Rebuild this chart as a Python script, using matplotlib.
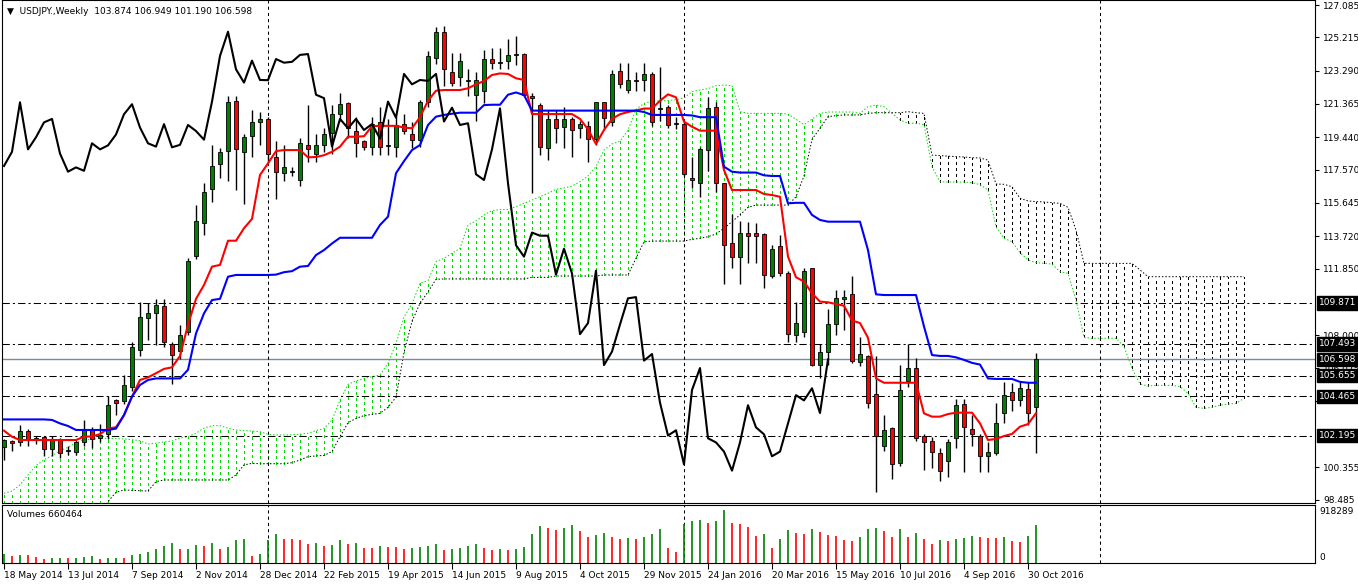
import numpy as np
import matplotlib.pyplot as plt
import matplotlib.transforms as mtransforms

# weekly USDJPY bars, 18 May 2014 .. 6 Nov 2016
opens = [101.53, 101.9, 101.84, 102.48, 101.97, 102.1, 101.4, 102.0, 101.3, 101.25,
         101.8, 102.55, 102.05, 102.28, 104.25, 104.2, 105.0, 107.15, 108.98, 109.27,
         109.7, 107.5, 107.1, 108.2, 112.6, 114.46, 116.43, 117.9, 118.66, 121.53,
         118.6, 119.5, 120.35, 120.5, 118.3, 117.4, 117.45, 116.97, 118.97, 118.5,
         119.0, 119.67, 120.77, 121.4, 119.82, 119.2, 118.86, 120.3, 118.95, 118.86,
         120.2, 119.6, 119.3, 121.5, 124.05, 125.54, 123.2, 122.9, 122.7, 121.87,
         122.13, 123.96, 123.75, 123.85, 124.2, 124.25, 121.85, 121.3, 118.8, 120.5,
         120.05, 120.5, 119.96, 120.08, 119.36, 121.45, 120.33, 123.26, 122.2, 122.75,
         122.75, 123.1, 121.1, 121.2, 120.2, 120.2, 117.1, 116.8, 118.7, 121.2,
         116.8, 113.35, 112.54, 113.93, 113.9, 113.84, 111.4, 113.15, 111.6, 108.0,
         108.2, 111.87, 106.27, 107.04, 108.62, 110.1, 110.37, 106.47, 106.79, 104.6,
         101.6, 102.62, 100.6, 105.35, 106.1, 102.2, 101.9, 101.17, 100.7, 102.04,
         104.05, 102.55, 102.19, 100.99, 101.2, 103.5, 104.7, 104.23, 104.9, 103.874]
highs = [102.0, 101.95, 102.8, 102.6, 102.2, 102.15, 102.2, 102.05, 101.6, 102.0,
         103.1, 102.7, 102.85, 104.5, 104.3, 105.7, 107.6, 109.9, 109.85, 110.1,
         110.1, 107.6, 108.6, 112.45, 115.5, 116.8, 119.0, 118.8, 121.85, 121.8,
         119.6, 121.0, 120.9, 120.6, 119.2, 119.0, 117.7, 119.4, 121.3, 119.6,
         120.0, 121.3, 122.0, 121.5, 120.6, 119.3, 120.6, 121.2, 120.5, 120.6,
         120.8, 120.3, 121.6, 124.4, 125.8, 125.86, 124.3, 124.3, 123.4, 123.2,
         124.5, 124.6, 124.6, 125.1, 125.3, 124.3, 122.0, 121.4, 121.0, 121.0,
         121.2, 120.6, 120.4, 120.4, 121.5, 121.5, 123.3, 123.76, 123.75, 123.2,
         123.76, 123.2, 123.5, 121.3, 120.6, 120.3, 118.3, 118.9, 121.75, 121.5,
         116.8, 115.0, 114.6, 114.55, 114.5, 113.9, 113.2, 113.8, 111.7, 109.9,
         111.9, 111.9, 107.5, 109.5, 110.6, 110.6, 111.4, 107.9, 106.85, 106.8,
         103.4, 102.7, 106.3, 107.5, 106.7, 102.3, 102.1, 101.5, 102.0, 104.3,
         104.3, 103.4, 102.3, 101.84, 104.1, 105.3, 105.25, 105.3, 105.3, 106.949]
lows = [100.8, 101.3, 101.6, 101.6, 101.7, 101.0, 101.0, 100.9, 101.1, 101.1,
        101.6, 101.5, 101.8, 102.0, 103.4, 104.0, 104.8, 106.8, 107.7, 107.45,
        107.3, 105.2, 106.6, 108.0, 112.4, 113.8, 115.7, 117.1, 116.9, 116.4,
        115.6, 118.3, 119.0, 118.0, 115.9, 116.9, 117.2, 116.6, 118.0, 118.0,
        118.6, 118.5, 120.4, 119.4, 118.3, 118.7, 118.4, 118.4, 118.4, 118.3,
        119.6, 118.8, 118.9, 121.2, 123.7, 122.4, 122.4, 122.4, 121.8, 120.4,
        121.4, 123.4, 123.4, 123.4, 123.6, 121.8, 116.2, 118.4, 118.1, 119.1,
        118.8, 118.3, 119.4, 118.0, 119.0, 119.9, 120.1, 122.3, 122.0, 122.1,
        122.1, 120.1, 120.4, 120.0, 119.9, 117.2, 116.5, 116.0, 117.5, 116.3,
        110.98, 111.9, 110.98, 112.2, 112.2, 110.7, 111.3, 111.4, 107.6, 107.6,
        107.9, 106.2, 105.5, 106.3, 108.0, 108.3, 106.4, 106.2, 103.8, 98.95,
        101.3, 99.7, 100.45, 105.0, 101.9, 100.2, 100.3, 99.55, 99.8, 101.5,
        100.1, 101.6, 100.1, 100.1, 101.1, 102.9, 103.6, 103.9, 102.8, 101.19]
closes = [101.94, 101.75, 102.48, 102.02, 102.05, 101.4, 102.0, 101.2, 101.35, 101.8,
          102.55, 102.0, 102.25, 103.95, 104.06, 105.1, 107.33, 109.03, 109.27, 109.74,
          107.6, 106.85, 108.0, 112.3, 114.6, 116.26, 117.78, 118.6, 121.46, 118.74,
          119.44, 120.3, 120.5, 118.5, 117.45, 117.7, 117.5, 119.09, 118.74, 118.97,
          119.6, 120.77, 121.35, 120.0, 119.09, 118.9, 120.2, 118.86, 119.0, 120.15,
          119.8, 119.3, 121.5, 124.14, 125.54, 123.37, 122.6, 123.87, 122.75, 122.74,
          123.96, 123.75, 123.8, 124.2, 124.25, 121.9, 121.7, 118.9, 120.5, 119.96,
          120.5, 119.86, 120.2, 119.36, 121.5, 120.57, 123.1, 122.5, 122.75, 122.7,
          123.1, 120.35, 121.15, 120.15, 120.25, 117.3, 116.97, 118.74, 121.11, 116.78,
          113.2, 112.54, 113.93, 113.75, 113.75, 111.5, 113.0, 111.57, 108.06, 108.7,
          111.73, 106.27, 107.05, 108.62, 110.13, 110.2, 106.53, 106.91, 104.1, 102.2,
          102.5, 100.53, 104.83, 106.1, 102.04, 101.8, 101.27, 100.17, 101.8, 103.95,
          102.67, 102.27, 101.0, 101.27, 102.9, 104.53, 104.23, 104.93, 103.5, 106.598]

tenkan = [102.48, 102.13, 101.94, 101.94, 101.94, 101.94, 101.94, 101.94, 101.94, 101.94,
          102.13, 102.15, 102.28, 102.6, 102.68, 103.38, 104.45, 105.41, 105.56, 105.8,
          106.05, 106.14, 106.8, 108.6, 110.1, 110.9, 111.96, 112.06, 113.46, 113.46,
          114.18, 114.72, 117.26, 117.93, 118.64, 118.7, 118.7, 118.7, 118.28, 118.3,
          118.4, 118.6, 118.9, 119.47, 119.47, 119.5, 120.08, 120.1, 120.1, 120.1,
          120.0, 119.96, 120.6, 121.55, 122.13, 122.17, 122.17, 122.17, 122.27, 122.5,
          122.69, 123.04, 123.13, 123.1, 122.85, 122.75, 120.78, 120.78, 120.78, 120.78,
          120.78, 120.78, 120.5, 119.9, 119.05, 119.86, 120.5, 120.77, 120.9, 120.99,
          121.1, 121.1, 121.55, 121.92, 121.75, 120.34, 120.05, 119.82, 119.82, 119.82,
          117.55, 116.39, 116.39, 116.39, 116.39, 116.16, 116.1, 116.0, 112.54, 111.35,
          111.1, 110.42, 109.94, 109.9, 109.8, 109.7, 108.85, 108.7, 107.85, 105.5,
          105.25, 105.25, 105.25, 105.25, 105.25, 103.48, 103.29, 103.29, 103.44, 103.52,
          103.52, 103.52, 102.9, 101.94, 102.0, 102.17, 102.29, 102.71, 102.86, 103.48]
kijun = [103.13, 103.13, 103.13, 103.13, 103.13, 103.13, 103.1, 102.9, 102.75, 102.52,
         102.52, 102.52, 102.52, 102.52, 102.6, 103.38, 104.45, 105.12, 105.41, 105.5,
         105.5, 105.5, 105.5, 106.0, 108.1, 109.26, 110.03, 110.1, 111.38, 111.48,
         111.48, 111.48, 111.48, 111.48, 111.5, 111.64, 111.7, 111.96, 112.0, 112.63,
         112.92, 113.3, 113.63, 113.63, 113.63, 113.63, 113.63, 114.37, 114.85, 117.36,
         118.06, 118.7, 118.99, 120.15, 120.63, 120.73, 120.8, 120.86, 120.86, 120.86,
         121.3, 121.32, 121.32, 121.9, 122.03, 121.88, 120.98, 120.98, 120.98, 120.98,
         120.98, 120.98, 120.98, 120.98, 120.98, 120.98, 120.98, 120.98, 120.98, 120.98,
         120.9, 120.73, 120.73, 120.73, 120.73, 120.73, 120.7, 120.6, 120.6, 120.6,
         117.74, 117.45, 117.4, 117.4, 117.4, 117.24, 117.2, 117.2, 115.62, 115.65,
         115.65, 114.95, 114.66, 114.56, 114.56, 114.56, 114.56, 114.56, 112.92, 110.36,
         110.32, 110.32, 110.32, 110.32, 110.32, 108.5, 106.85, 106.8, 106.8, 106.72,
         106.57, 106.4, 106.3, 105.5, 105.47, 105.47, 105.47, 105.3, 105.25, 105.25]
# cloud spans run 26 bars past the last candle
span_a = [98.86, 98.99, 99.34, 99.92, 100.46, 100.8, 101.03, 101.32, 101.52, 101.8,
          101.94, 101.98, 102.04, 102.04, 102.02, 102.0, 101.96, 101.9, 101.71, 101.75,
          101.83, 101.88, 102.06, 102.13, 102.33, 102.63, 102.77, 102.77, 102.62, 102.52,
          102.48, 102.46, 102.42, 102.27, 102.23, 102.23, 102.25, 102.27, 102.33, 102.48,
          102.6, 103.1, 104.25, 105.16, 105.35, 105.5, 105.6, 105.7, 106.37, 107.53,
          109.05, 109.8, 111.0, 111.15, 112.25, 112.44, 112.73, 113.02, 114.37, 114.6,
          114.95, 115.2, 115.26, 115.27, 115.43, 115.62, 115.81, 116.01, 116.2, 116.43,
          116.51, 116.62, 116.87, 117.2, 117.74, 118.7, 119.05, 119.22, 119.86, 121.05,
          121.4, 121.52, 121.54, 121.57, 121.61, 121.71, 122.08, 122.17, 122.25, 122.42,
          122.46, 122.42, 120.92, 120.82, 120.82, 120.82, 120.82, 120.82, 120.78, 120.48,
          120.17, 120.48, 120.82, 120.9, 120.9, 120.9, 120.9, 120.82, 121.21, 121.3,
          121.21, 120.82, 120.44, 120.25, 120.25, 120.17, 117.74, 116.87, 116.85, 116.85,
          116.85, 116.82, 116.7, 116.39, 114.27, 113.6, 113.4, 112.77, 112.35, 112.19,
          112.15, 112.11, 111.67, 111.57, 110.03, 107.87, 107.82, 107.82, 107.82, 107.82,
          107.34, 106.08, 105.18, 105.06, 105.1, 105.1, 105.1, 105.02, 104.64, 103.83,
          103.77, 103.83, 103.95, 104.02, 104.06, 104.35]
span_b = [97.6, 97.6, 97.6, 97.6, 97.6, 97.6, 97.6, 97.6, 97.6, 97.6,
          97.6, 97.6, 97.6, 98.38, 98.92, 99.05, 99.03, 99.01, 98.99, 99.53,
          99.63, 99.63, 99.63, 99.63, 99.63, 99.63, 99.63, 99.63, 99.63, 99.92,
          100.5, 100.59, 100.57, 100.57, 100.57, 100.57, 100.63, 100.78, 100.98, 101.02,
          101.05, 101.27, 102.13, 102.94, 103.19, 103.35, 103.42, 103.48, 103.83, 104.41,
          107.0, 108.8, 109.84, 110.5, 111.23, 111.25, 111.25, 111.25, 111.25, 111.25,
          111.25, 111.25, 111.25, 111.25, 111.25, 111.25, 111.34, 111.34, 111.34, 111.42,
          111.42, 111.42, 111.42, 111.42, 111.42, 111.48, 111.48, 111.48, 111.48, 112.44,
          113.4, 113.44, 113.44, 113.44, 113.44, 113.44, 113.54, 113.6, 113.69, 113.85,
          114.18, 114.56, 114.95, 115.39, 115.52, 115.52, 115.52, 115.52, 115.52, 116.0,
          117.2, 119.32, 119.96, 120.63, 120.69, 120.73, 120.73, 120.73, 120.82, 120.86,
          120.86, 120.86, 120.86, 120.92, 120.86, 120.82, 118.41, 118.38, 118.35, 118.32,
          118.3, 118.26, 118.24, 118.12, 116.74, 116.72, 116.58, 115.91, 115.76, 115.72,
          115.7, 115.66, 115.62, 115.39, 114.08, 112.15, 112.15, 112.15, 112.15, 112.15,
          112.15, 112.15, 111.77, 111.38, 111.38, 111.38, 111.38, 111.38, 111.38, 111.38,
          111.38, 111.38, 111.38, 111.38, 111.38, 111.38]

volumes = [157900, 128700, 140400, 134500, 111100, 76000, 81900, 87700, 81900, 87700,
           111100, 117000, 76000, 81900, 87700, 81900, 146200, 157900, 198900, 239800,
           304100, 356800, 239800, 245700, 321700, 304100, 345100, 239800, 286600, 403600,
           409400, 128700, 157900, 397700, 497200, 415300, 409400, 397700, 339200, 350900,
           304100, 310000, 391900, 339200, 345100, 263200, 257400, 304100, 286600, 280800,
           245700, 263200, 286600, 304100, 339200, 234000, 245700, 263200, 304100, 339200,
           263200, 228100, 245700, 234000, 239800, 286600, 497200, 637500, 608300, 567400,
           602400, 655100, 555700, 444500, 479600, 520600, 450400, 421100, 427000, 415300,
           456200, 497200, 584900, 269100, 198900, 672600, 725300, 754500, 701900, 731100,
           918289, 696000, 672600, 620000, 467900, 497200, 269100, 409400, 567400, 514700,
           497200, 584900, 532300, 479600, 467900, 397700, 386000, 450400, 584900, 608300,
           555700, 444500, 584900, 456200, 514700, 415300, 327500, 397700, 380200, 421100,
           427000, 473800, 444500, 438700, 432800, 456200, 380200, 374300, 462100, 660464]

date_labels = ["18 May 2014", "13 Jul 2014", "7 Sep 2014", "2 Nov 2014", "28 Dec 2014",
               "22 Feb 2015", "19 Apr 2015", "14 Jun 2015", "9 Aug 2015", "4 Oct 2015",
               "29 Nov 2015", "24 Jan 2016", "20 Mar 2016", "15 May 2016", "10 Jul 2016",
               "4 Sep 2016", "30 Oct 2016"]
# 109.925 and 102.280 sit under the level boxes, so they are left out
price_ticks = [127.085, 125.215, 123.290, 121.365, 119.440, 117.570, 115.645, 113.720,
               111.850, 108.000, 106.075, 104.205, 100.355, 98.485]
levels = [109.871, 107.493, 105.655, 104.465, 102.195]
bid = 106.598
year_marks = [33, 85, 137]

plt.rcParams['font.family'] = ['DejaVu Sans']
W, H = 1358, 584
fig = plt.figure(figsize=(W / 100, H / 100), dpi=100)
ax = fig.add_axes([2 / W, (H - 503) / H, 1313 / W, 503 / H])
vax = fig.add_axes([2 / W, (H - 563) / H, 1313 / W, 58 / H])

n = len(closes)
idx = np.arange(n)
o = np.array(opens); c = np.array(closes)
hi = np.array(highs); lo = np.array(lows)

# ichimoku cloud hatching, thin sparse dashes
a = np.array(span_a); b = np.array(span_b)
ci = np.arange(len(a))
hatch_col = np.where(a >= b, '#00dd00', 'black')
ax.vlines(ci, np.minimum(a, b), np.maximum(a, b), colors=hatch_col,
          linestyles=(0, (2.5, 3.5)), lw=0.72, antialiased=False, zorder=1)
ax.plot(ci, a, color='#00dd00', lw=0.7, ls=(0, (1.5, 2)), zorder=2)
ax.plot(ci, b, color='black', lw=0.7, ls=(0, (1.5, 2)), zorder=2)

for lv in levels:
    ax.axhline(lv, color='black', lw=0.75, ls=(0, (7, 3, 2, 3)), zorder=2)
ax.axhline(bid, color='#7a8a9a', lw=1, zorder=2)
for xm in year_marks:
    ax.axvline(xm, color='black', lw=0.75, ls=(0, (3, 3)), zorder=2)
    vax.axvline(xm, color='black', lw=0.75, ls=(0, (3, 3)), zorder=2)

# candles
ax.vlines(idx, lo, hi, color='black', lw=1, zorder=3)
up = c >= o
body_lo = np.minimum(o, c)
body_h = np.maximum(np.abs(c - o), 0.04)
ax.bar(idx, body_h, bottom=body_lo, width=0.6,
       color=np.where(up, '#008000', '#ff0000'), edgecolor='black', lw=0.6, zorder=4)

ax.plot(idx, tenkan, color='#ff0000', lw=1.5, zorder=5)
ax.plot(idx, kijun, color='#0000ff', lw=1.5, zorder=5)
ax.plot(idx[:n - 26], c[26:], color='black', lw=1.5, zorder=5)

xmin, xmax = -0.25, (1315 - 4) / 8
ax.set_xlim(xmin, xmax)
ax.set_ylim(127.085 - 498 / 17.3, 127.085 + 5 / 17.3)
ax.set_xticks([])
ax.yaxis.tick_right()
ax.set_yticks(price_ticks)
ax.set_yticklabels([f"{p:.3f}" for p in price_ticks])
ax.tick_params(axis='y', length=3, width=0.8, pad=3, labelsize=6.5, colors='black')

tr = mtransforms.blended_transform_factory(ax.transAxes, ax.transData)
for lv in levels + [bid]:
    ax.text(1.0 + 4 / 1313, lv, f"{lv:.3f}", transform=tr, ha='left', va='center',
            fontsize=6.5, color='white', zorder=10, clip_on=False,
            bbox=dict(boxstyle='square,pad=0.25', fc='black', ec='black'))

ax.text(5 / 1313, 1 - 11 / 503, "\u25bc  USDJPY.,Weekly  103.874 106.949 101.190 106.598",
        transform=ax.transAxes, fontsize=6.5, va='center', ha='left')

# volumes, green when volume rises, red when it falls
v = np.array(volumes)
vcol = ['#008000'] + ['#008000' if v[i] > v[i - 1] else '#ff0000' for i in range(1, n)]
vax.vlines(idx, 0, v, colors=vcol, lw=1.2)
vax.set_xlim(xmin, xmax)
vax.set_ylim(0, 918289 * 1.1)
vax.set_yticks([])
vax.set_xticks(idx[::8])
vax.set_xticklabels(date_labels, ha='left')
vax.tick_params(axis='x', length=4, width=0.8, pad=2, labelsize=6.5)
vax.text(5 / 1313, 0.84, "Volumes 660464", transform=vax.transAxes, fontsize=6.5,
         va='center', ha='left')
vax.text(1.0 + 4 / 1313, 0.88, "918289", transform=vax.transAxes, fontsize=6.5,
         va='center', ha='left')
vax.text(1.0 + 4 / 1313, 0.1, "0", transform=vax.transAxes, fontsize=6.5,
         va='center', ha='left')

for a_ in (ax, vax):
    for s in a_.spines.values():
        s.set_color('black')
        s.set_linewidth(0.8)

fig.savefig('out.png', dpi=100)
